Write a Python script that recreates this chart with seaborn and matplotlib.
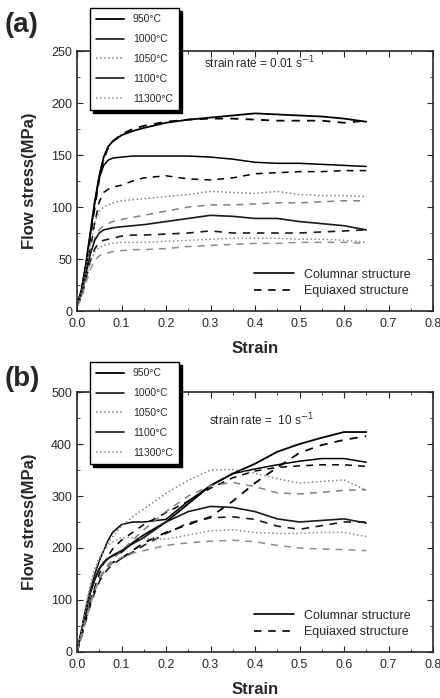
import seaborn as sns
sns.set_style('ticks')
import matplotlib.pyplot as plt
from matplotlib.lines import Line2D
from matplotlib.ticker import MultipleLocator

plt.rcParams['font.family'] = ['Liberation Sans', 'DejaVu Sans']

# strain grid shared by all curves
strain = [0, .01, .02, .03, .04, .05, .06, .07, .08, .1, .125, .15,
          .2, .25, .3, .35, .4, .45, .5, .55, .6, .65]

temps = ['950°C', '1000°C', '1050°C', '1100°C', '11300°C']

# (a) strain rate 0.01 /s
a_col = {
    '950°C':   [5, 20, 45, 75, 105, 130, 148, 158, 163, 169, 173, 176, 181, 184, 186, 188, 190, 189, 188, 187, 185, 182],
    '1000°C':  [5, 20, 45, 75, 105, 128, 140, 145, 147, 148, 149, 149, 149, 149, 148, 146, 143, 142, 142, 141, 140, 139],
    '1050°C':  [5, 18, 40, 65, 85, 96, 100, 102, 104, 106, 107, 108, 110, 112, 115, 114, 113, 115, 112, 111, 111, 110],
    '1100°C':  [5, 16, 35, 55, 68, 75, 78, 79, 80, 81, 82, 83, 86, 89, 92, 91, 89, 89, 86, 84, 82, 78],
    '11300°C': [5, 15, 32, 48, 57, 61, 63, 64, 65, 66, 66, 66, 67, 68, 69, 70, 70, 70, 69, 69, 68, 66],
}
a_eq = {
    '950°C':   [5, 18, 42, 70, 100, 127, 146, 157, 163, 170, 175, 178, 182, 184, 185, 185, 184, 183, 183, 183, 181, 183],
    '1000°C':  [5, 16, 36, 60, 85, 105, 114, 117, 119, 121, 125, 128, 130, 127, 126, 128, 132, 133, 134, 134, 135, 135],
    '1050°C':  [5, 15, 33, 55, 70, 78, 82, 84, 86, 88, 90, 92, 96, 100, 102, 102, 103, 104, 104, 105, 106, 106],
    '1100°C':  [5, 14, 30, 48, 60, 66, 68, 69, 70, 72, 73, 73, 74, 75, 77, 75, 75, 75, 75, 76, 77, 78],
    '11300°C': [4, 12, 27, 40, 49, 53, 55, 56, 57, 58, 59, 59, 60, 62, 63, 64, 65, 65, 66, 66, 66, 65],
}

# (b) strain rate 10 /s
b_col = {
    '950°C':   [0, 40, 80, 115, 140, 160, 172, 180, 185, 192, 210, 225, 250, 285, 320, 343, 362, 385, 400, 412, 423, 423],
    '1000°C':  [0, 40, 85, 120, 150, 175, 195, 215, 230, 245, 250, 250, 255, 290, 320, 343, 352, 360, 367, 372, 372, 365],
    '1050°C':  [0, 45, 90, 130, 160, 180, 195, 210, 222, 242, 260, 275, 305, 330, 350, 351, 344, 333, 325, 328, 331, 311],
    '1100°C':  [0, 40, 80, 115, 140, 160, 172, 180, 186, 195, 208, 220, 250, 270, 280, 278, 270, 256, 250, 253, 256, 248],
    '11300°C': [0, 42, 85, 125, 155, 180, 195, 205, 212, 220, 220, 218, 217, 225, 233, 235, 230, 228, 228, 230, 230, 222],
}
b_eq = {
    '950°C':   [0, 30, 65, 95, 120, 140, 155, 165, 172, 180, 195, 210, 230, 245, 260, 290, 325, 355, 383, 398, 408, 415],
    '1000°C':  [0, 35, 70, 100, 125, 150, 170, 185, 198, 215, 230, 245, 268, 290, 315, 335, 348, 355, 358, 360, 360, 357],
    '1050°C':  [0, 30, 65, 95, 120, 140, 155, 168, 178, 195, 215, 235, 270, 300, 320, 326, 318, 306, 304, 307, 311, 312],
    '1100°C':  [0, 30, 60, 90, 115, 135, 150, 160, 168, 180, 192, 205, 228, 248, 258, 260, 255, 242, 236, 243, 250, 250],
    '11300°C': [0, 30, 62, 92, 118, 140, 155, 165, 172, 182, 190, 195, 205, 210, 213, 215, 212, 205, 200, 198, 197, 195],
}

# line look per temperature: (color, linestyle for columnar, width)
look = {
    '950°C':   ('black', '-', 1.3),
    '1000°C':  ('black', '-', 1.1),
    '1050°C':  ('0.5', ':', 1.1),
    '1100°C':  ('0.1', '-', 1.2),
    '11300°C': ('0.55', ':', 1.1),
}

fig = plt.figure(figsize=(4.4, 6.98), dpi=100)
ax_a = fig.add_axes([77/440, 1-311/698, 356/440, 260/698])
ax_b = fig.add_axes([77/440, 1-652/698, 356/440, 260/698])


def draw(ax, col, eq, ymax, ystep, rate_txt, rate_x, rate_y, panel, leg_top):
    for t in temps:
        c, ls, lw = look[t]
        sns.lineplot(x=strain, y=col[t], ax=ax, color=c, lw=lw, linestyle=ls)
        sns.lineplot(x=strain, y=eq[t], ax=ax, color=c, lw=lw, linestyle=(0, (4.5, 4)))
    ax.set_xlim(0, 0.8)
    ax.set_ylim(0, ymax)
    ax.xaxis.set_major_locator(MultipleLocator(0.1))
    ax.xaxis.set_minor_locator(MultipleLocator(0.05))
    ax.yaxis.set_major_locator(MultipleLocator(ystep))
    ax.yaxis.set_minor_locator(MultipleLocator(ystep / 2))
    ax.xaxis.set_major_formatter(plt.FuncFormatter(lambda v, p: f'{v:.1f}'))
    ax.tick_params(which='both', direction='in', top=True, right=True, labelsize=9)
    ax.tick_params(which='major', length=4)
    ax.tick_params(which='minor', length=2)
    ax.tick_params(axis='x', pad=5)
    for s in ax.spines.values():
        s.set_linewidth(1.2)
    ax.set_xlabel('Strain', fontsize=12, fontweight='bold', labelpad=8)
    ax.set_ylabel('Flow stress(MPa)', fontsize=12, fontweight='bold', labelpad=10)
    ax.text(rate_x, rate_y, rate_txt, fontsize=8.5, va='center')

    struct = [Line2D([], [], color='black', lw=1.2, linestyle='-'),
              Line2D([], [], color='black', lw=1.2, linestyle=(0, (4.5, 4)))]
    ax.legend(struct, ['Columnar structure', 'Equiaxed structure'], loc='lower right',
              bbox_to_anchor=(0.97, 0.01), frameon=False, fontsize=9, handlelength=3.2,
              labelspacing=0.35)

    hs = [Line2D([], [], color=look[t][0], lw=look[t][2], linestyle=look[t][1]) for t in temps]
    fig.legend(hs, temps, loc='upper left', bbox_to_anchor=(90/440, 1 - leg_top/698),
               fontsize=7.5, handlelength=2.7, labelspacing=0.95, frameon=True, fancybox=False,
               edgecolor='black', framealpha=1, borderpad=0.6, borderaxespad=0,
               shadow={'color': 'black', 'alpha': 1})
    fig.text(5/440, 1 - (leg_top + 4)/698, panel, fontsize=20, fontweight='bold', va='top')


draw(ax_a, a_col, a_eq, 250, 50, 'strain rate = 0.01 s$^{-1}$', 0.285, 238, '(a)', 8)
draw(ax_b, b_col, b_eq, 500, 100, 'strain rate =  10 s$^{-1}$', 0.297, 446, '(b)', 362)

fig.savefig('out.png', dpi=100)
